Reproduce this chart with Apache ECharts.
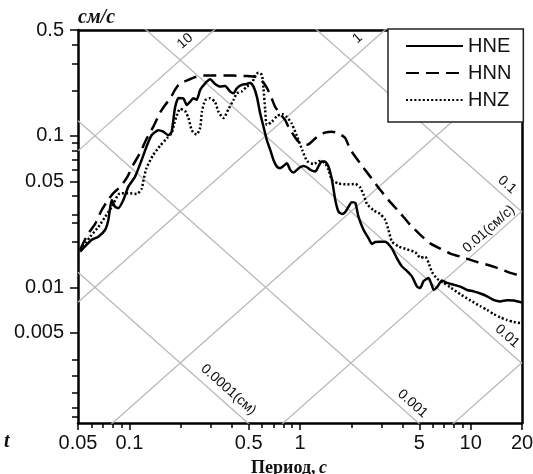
<!DOCTYPE html>
<html><head><meta charset="utf-8">
<script src="https://cdn.jsdelivr.net/npm/echarts@6/dist/echarts.min.js"></script>
<style>html,body{margin:0;padding:0;background:#fff}#c{width:533px;height:474px}</style>
</head><body><div id="c"></div>
<script>
// ---- data (period, s ; velocity, cm/s) ----
const hnePeriod = [0.0514,0.0602,0.0658,0.0720,0.0753,0.0788,0.0824,0.0862,0.0922,0.0986,
0.108,0.118,0.126,0.135,0.148,0.158,0.169,0.177,0.185,0.194,
0.207,0.217,0.227,0.237,0.248,0.260,0.278,0.297,0.318,0.340,
0.364,0.390,0.408,0.426,0.456,0.488,0.510,0.534,0.559,0.584,
0.611,0.639,0.669,0.699,0.732,0.765,0.800,0.838,0.876,0.916,
0.959,1.00,1.05,1.10,1.15,1.23,1.28,1.34,1.40,1.47,
1.54,1.61,1.68,1.76,1.84,1.92,2.01,2.11,2.20,2.36,
2.52,2.64,2.76,2.95,3.16,3.46,3.70,3.96,4.24,4.53,
4.85,5.07,5.30,5.67,5.94,6.07,6.35,6.79,7.27,7.95,
8.70,9.53,10.4,11.4,12.5,13.6,14.9,16.3,17.9,20.0];
const hneVelocity = [0.0172,0.0206,0.0216,0.0239,0.0278,0.0377,0.0341,0.0333,0.0377,0.0462,
0.0538,0.0693,0.0848,0.101,0.109,0.1065,0.101,0.1065,0.153,0.178,
0.177,0.160,0.168,0.177,0.173,0.201,0.222,0.2365,0.220,0.2115,
0.2135,0.196,0.191,0.206,0.217,0.220,0.2245,0.2115,0.181,0.141,
0.115,0.0939,0.0807,0.0693,0.0626,0.0611,0.0633,0.0659,0.0596,0.0572,
0.0596,0.0620,0.0633,0.0620,0.0596,0.0581,0.0626,0.0676,0.0676,0.0626,
0.0511,0.0377,0.0316,0.0305,0.0314,0.0339,0.0365,0.0360,0.0293,0.0239,
0.0211,0.0193,0.0199,0.0200,0.0200,0.0180,0.0155,0.0137,0.0128,0.0118,
0.0101,0.0099,0.0110,0.0115,0.0102,0.0096,0.0100,0.0111,0.0107,0.0104,
0.0101,0.0096,0.0094,0.0091,0.0087,0.00826,0.00807,0.00822,0.00817,0.00792];

const hnnPeriod = [0.0514,0.0572,0.0629,0.0689,0.0750,0.0806,0.0882,0.0965,0.1055,0.1155,
0.126,0.138,0.151,0.162,0.173,0.185,0.194,0.207,0.222,0.243,
0.266,0.318,0.406,0.488,0.554,0.584,0.625,0.653,0.684,0.715,
0.765,0.819,0.856,0.916,0.980,1.05,1.12,1.20,1.28,1.40,
1.54,1.68,1.84,1.92,2.01,2.25,2.58,2.95,3.38,3.87,
4.43,5.07,5.80,6.64,7.60,9.10,10.9,13.6,16.3,20.0];
const hnnVelocity = [0.0177,0.0225,0.0261,0.0324,0.0377,0.0418,0.0460,0.0527,0.0646,0.0771,
0.0953,0.1145,0.1418,0.160,0.1755,0.201,0.217,0.227,0.234,0.2445,
0.250,0.250,0.250,0.248,0.2445,0.2375,0.217,0.198,0.1755,0.1555,
0.1395,0.127,0.1145,0.1013,0.0915,0.0870,0.0877,0.0939,0.0998,0.105,
0.1065,0.104,0.0968,0.0870,0.0787,0.0659,0.0538,0.0440,0.0365,0.0309,
0.0258,0.0222,0.0195,0.0180,0.0167,0.0157,0.0147,0.0137,0.0127,0.0118];

const hnzPeriod = [0.0521,0.0588,0.0658,0.0720,0.0788,0.0882,0.0986,0.1105,0.118,0.121,
0.126,0.138,0.151,0.166,0.177,0.183,0.190,0.198,0.212,0.222,
0.232,0.248,0.260,0.266,0.278,0.297,0.318,0.333,0.356,0.381,
0.408,0.426,0.456,0.488,0.522,0.546,0.571,0.598,0.611,0.625,
0.639,0.684,0.732,0.783,0.838,0.896,0.959,1.03,1.10,1.20,
1.31,1.40,1.47,1.54,1.68,1.88,2.11,2.25,2.36,2.47,
2.70,2.95,3.16,3.30,3.46,3.78,4.24,4.74,5.07,5.42,
5.67,5.94,6.35,6.94,7.60,8.70,9.96,11.4,12.5,13.6,
14.9,16.3,17.9,20.0];
const hnzVelocity = [0.0175,0.0215,0.0250,0.0291,0.0339,0.0418,0.0418,0.0413,0.0447,0.0511,
0.0614,0.0748,0.0857,0.0964,0.1045,0.120,0.137,0.1505,0.146,0.131,
0.109,0.102,0.113,0.144,0.1715,0.177,0.167,0.144,0.131,0.1505,
0.173,0.191,0.1965,0.2115,0.220,0.252,0.2615,0.252,0.207,0.148,
0.118,0.124,0.135,0.1395,0.133,0.120,0.0998,0.0807,0.0683,0.0652,
0.0683,0.0662,0.0596,0.0511,0.0485,0.0478,0.0481,0.0457,0.0408,0.0355,
0.0322,0.0305,0.0278,0.0239,0.0200,0.0186,0.0178,0.0170,0.0157,0.0159,
0.0145,0.0126,0.0114,0.0107,0.0100,0.0090,0.0082,0.0075,0.00709,0.00667,
0.00633,0.00608,0.00590,0.00578];

const seriesNames = ['HNE','HNN','HNZ'];

// axis ticks
const xMajorTicks = [0.05,0.1,0.5,1,5,10,20];
const xMajorLabels = ['0.05','0.1','0.5','1','5','10','20'];
const xMinorTicks = [0.06,0.07,0.08,0.09,0.2,0.3,0.4,0.6,0.7,0.8,0.9,2,3,4,6,7,8,9];
const yMajorTicks = [0.5,0.1,0.05,0.01,0.005];
const yMajorLabels = ['0.5','0.1','0.05','0.01','0.005'];
const yMinorTicks = [0.4,0.3,0.2,0.09,0.08,0.07,0.06,0.04,0.03,0.0265,0.02,0.0033,0.0026,0.002,0.0016,0.0014];
const xRange = [0.05, 20];
const yRange = [0.00127, 0.5];

// tripartite grid: displacement (cm) and acceleration lines
const dispLines = [0.0001,0.001,0.01,0.1,1];
const accLines = [0.001,0.01,0.1,1,10];
const gridLabelTexts = ['10','1','0.01(см/с)','0.1','0.01','0.001','0.0001(см)'];
const gridLabelKinds = ['A','A','A','D','D','D','D'];
const gridLabelValues = [10,1,0.01,0.1,0.01,0.001,0.0001];

// ---- layout helpers ----
const lg = Math.log10;
const labelAnchorT = [0.234,2.42,13.8,14.9,14.9,4.16,0.342];
const labelOffset = [11,12,8.5,10.5,10.5,10.5,12];
function vOnLine(kind, val, T){ return kind==='D' ? 2*Math.PI*val/T : val*T/(2*Math.PI); }
function fmtFrom(ticks, labels){
  const l = ticks.map(lg);
  return v => { for (let i=0;i<l.length;i++) if (Math.abs(l[i]-v)<1e-6) return labels[i]; return ''; };
}
const toXY = (P,V) => P.map((p,i)=>[lg(p), lg(V[i])]);

const xMin = lg(xRange[0]), xMax = lg(xRange[1]);
const yMin = lg(yRange[0]), yMax = lg(yRange[1]);
const axisFont = {fontFamily:'Liberation Sans', fontSize:20, color:'#111'};

const diagSeries = [];
dispLines.forEach(D => diagSeries.push({
  type:'line', data: xRange.map(T=>[lg(T), lg(vOnLine('D',D,T))]), symbol:'none', silent:true,
  lineStyle:{color:'#b9b9b9', width:1.3}, z:1, clip:true, legendHoverLink:false
}));
accLines.forEach(A => diagSeries.push({
  type:'line', data: xRange.map(T=>[lg(T), lg(vOnLine('A',A,T))]), symbol:'none', silent:true,
  lineStyle:{color:'#b9b9b9', width:1.3}, z:1, clip:true, legendHoverLink:false
}));

const labelSeries = {
  type:'custom', silent:true, z:3, clip:false,
  data: gridLabelTexts.map((t,i)=>[lg(labelAnchorT[i]), lg(vOnLine(gridLabelKinds[i], gridLabelValues[i], labelAnchorT[i])), i]),
  renderItem: (params, api) => {
    const i = api.value(2);
    const k = gridLabelKinds[i], v = gridLabelValues[i], T = labelAnchorT[i];
    const p = api.coord([lg(T), lg(vOnLine(k,v,T))]);
    const p2 = api.coord([lg(T*2), lg(vOnLine(k,v,T*2))]);
    let dx = p2[0]-p[0], dy = p2[1]-p[1]; const L = Math.hypot(dx,dy); dx/=L; dy/=L;
    let nx = dy, ny = -dx; if (ny > 0) { nx=-nx; ny=-ny; }
    return {type:'text', x: p[0]+nx*labelOffset[i], y: p[1]+ny*labelOffset[i],
      rotation: -Math.atan2(dy,dx),
      style:{text: gridLabelTexts[i], align:'center', verticalAlign:'middle',
        font:'14px "Liberation Sans"', fill:'#111'}};
  }
};

const curveStyle = [
  {color:'#000', width:2.5, type:'solid'},
  {color:'#000', width:2.5, type:[13,7]},
  {color:'#000', width:2.5, type:[2,2.2]}
];
const curveData = [toXY(hnePeriod,hneVelocity), toXY(hnnPeriod,hnnVelocity), toXY(hnzPeriod,hnzVelocity)];
const curves = seriesNames.map((n,i)=>({
  name:n, type:'line', data:curveData[i], symbol:'none', smooth:0.2, z:5,
  lineStyle:curveStyle[i], itemStyle:{color:'#000'}
}));

const chart = echarts.init(document.getElementById('c'), null, {renderer:'canvas'});
chart.setOption({
  animation:false,
  backgroundColor:'#fff',
  grid:{left:78, right:11, top:30, bottom:51, containLabel:false, outerBoundsMode:'none'},
  legend:{
    data:seriesNames, orient:'vertical', left:388, top:29, padding:[7,12,12,17],
    itemGap:7, itemWidth:57, itemHeight:14, backgroundColor:'#fff', borderColor:'#222', borderWidth:1.5,
    borderRadius:0, selectedMode:false, itemStyle:{opacity:0},
    textStyle:{fontFamily:'Liberation Sans', fontSize:20, color:'#111'}
  },
  xAxis:[
    {type:'value', min:xMin, max:xMax, position:'bottom',
     axisLine:{onZero:false, lineStyle:{color:'#000', width:2.5}},
     axisTick:{customValues:xMajorTicks.map(lg), length:7, lineStyle:{color:'#000', width:1.5}},
     axisLabel:Object.assign({customValues:xMajorTicks.map(lg), formatter:fmtFrom(xMajorTicks,xMajorLabels), margin:10}, axisFont),
     splitLine:{show:false},
     name:'{a|Период,} {b|с}', nameLocation:'middle', nameGap:36,
     nameTextStyle:{padding:[0,22,0,0], rich:{
       a:{fontFamily:'Liberation Serif', fontWeight:'bold', fontSize:18, color:'#111'},
       b:{fontFamily:'Liberation Serif', fontWeight:'bold', fontStyle:'italic', fontSize:18, color:'#111'}}}},
    {type:'value', min:xMin, max:xMax, position:'bottom',
     axisLine:{show:false, onZero:false},
     axisTick:{customValues:xMinorTicks.map(lg), length:5, lineStyle:{color:'#000', width:1.5}},
     axisLabel:{show:false}, splitLine:{show:false}},
    {type:'value', min:xMin, max:xMax, position:'top',
     axisLine:{onZero:false, lineStyle:{color:'#000', width:2.5}},
     axisTick:{show:false}, axisLabel:{show:false}, splitLine:{show:false}}
  ],
  yAxis:[
    {type:'value', min:yMin, max:yMax, position:'left',
     axisLine:{onZero:false, lineStyle:{color:'#000', width:2.5}},
     axisTick:{customValues:yMajorTicks.map(lg), length:8, lineStyle:{color:'#000', width:1.5}},
     axisLabel:Object.assign({customValues:yMajorTicks.map(lg), formatter:fmtFrom(yMajorTicks,yMajorLabels), margin:14}, axisFont),
     splitLine:{show:false},
     name:'см/с', nameLocation:'end', nameGap:2,
     nameTextStyle:{fontFamily:'Liberation Serif', fontWeight:'bold', fontStyle:'italic', fontSize:20, color:'#111', align:'left', verticalAlign:'bottom'}},
    {type:'value', min:yMin, max:yMax, position:'left',
     axisLine:{show:false, onZero:false},
     axisTick:{customValues:yMinorTicks.map(lg), length:6, lineStyle:{color:'#000', width:1.5}},
     axisLabel:{show:false}, splitLine:{show:false}},
    {type:'value', min:yMin, max:yMax, position:'right',
     axisLine:{onZero:false, lineStyle:{color:'#000', width:2.5}},
     axisTick:{show:false}, axisLabel:{show:false}, splitLine:{show:false}}
  ],
  graphic:[
    {type:'text', left:4, top:432, style:{text:'t', font:'italic bold 20px "Liberation Serif"', fill:'#111'}}
  ],
  series:[...diagSeries, labelSeries, ...curves]
});
</script>
</body></html>
